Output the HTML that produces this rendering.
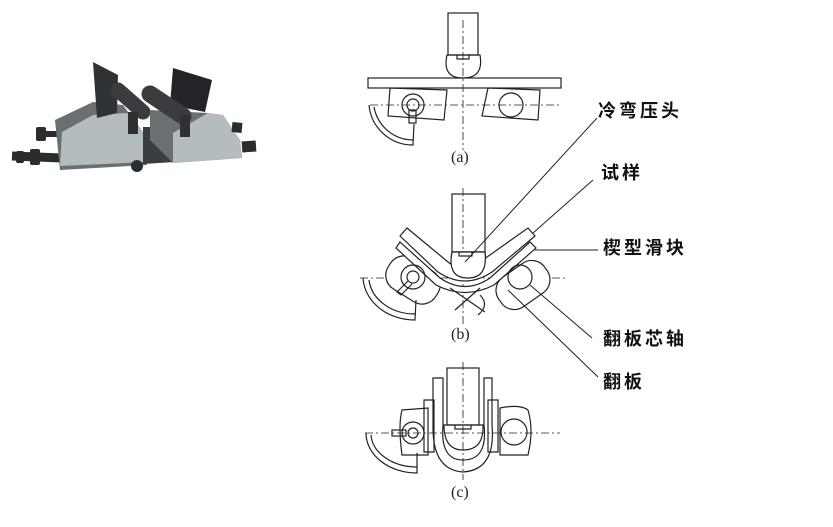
<!DOCTYPE html>
<html><head><meta charset="utf-8">
<style>
html,body{margin:0;padding:0;background:#fff;width:833px;height:527px;overflow:hidden}
svg{display:block}
.t{font-family:"Liberation Sans","Noto Sans CJK SC",sans-serif;font-weight:bold;font-size:18px;fill:#111;letter-spacing:3px}
.c{font-family:"Liberation Serif","Noto Serif CJK SC",serif;font-size:16px;fill:#222}
</style></head><body>
<svg width="833" height="527" viewBox="0 0 833 527" xmlns="http://www.w3.org/2000/svg">
<!-- photo -->
<g>
<line x1="12" y1="156" x2="62" y2="158" stroke="#2a2c2e" stroke-width="9"/>
<rect x="30" y="149" width="10" height="16" fill="#2a2c2e" rx="2"/>
<rect x="16" y="151" width="8" height="12" fill="#2a2c2e" rx="2"/>
<rect x="36" y="127" width="10" height="14" fill="#2a2c2e" rx="2"/>
<line x1="40" y1="134" x2="58" y2="134" stroke="#2a2c2e" stroke-width="6"/>
<polygon points="55,120 93,102 123,105 145,135 147,165 60,170" fill="#6a6f72"/>
<polygon points="62,132 93,115 127,113 145,135 147,162 60,166" fill="#b4bcbf"/>
<polygon points="143,127 175,127 175,162 143,164" fill="#3a3d40"/>
<polygon points="93,62 118,75 117,113 97,118" fill="#303336"/>
<line x1="118" y1="90" x2="143" y2="112" stroke="#3a3c3f" stroke-width="15" stroke-linecap="round"/>
<polygon points="173,68 212,80 205,112 170,105" fill="#222427"/>
<polygon points="150,110 208,113 223,115 240,140 242,158 173,163 150,140" fill="#6a6f72"/>
<polygon points="173,133 208,113 223,115 240,140 242,158 173,163" fill="#b4bcbf"/>
<line x1="150" y1="94" x2="183" y2="116" stroke="#3a3c3f" stroke-width="17" stroke-linecap="round"/>
<rect x="128" y="112" width="10" height="22" fill="#2e3033"/>
<rect x="180" y="115" width="10" height="22" fill="#2e3033"/>
<line x1="232" y1="127" x2="242" y2="128" stroke="#2a2c2e" stroke-width="10"/>
<line x1="242" y1="147" x2="256" y2="146" stroke="#2a2c2e" stroke-width="11"/>
<circle cx="137" cy="166" r="6" fill="#2a2c2e"/>
</g>
<g fill="none" stroke="#222" stroke-width="1.2">
<!-- (a) -->
<path d="M463 20V150 M370 105H560" stroke-dasharray="8 3 2 3" stroke-width="0.8"/>
<rect x="448" y="13" width="30" height="42"/>
<path d="M447 55 Q442 78 463 78 Q484 78 480 55 Z M457 55v4h12v-4"/>
<rect x="368" y="78" width="193" height="10"/>
<path d="M390 88l-2 28 56 4 3-30z M488 88l-6 28 56 4 2-30z"/>
<circle cx="413" cy="105" r="11"/><circle cx="413" cy="105" r="6"/>
<rect x="409" y="110" width="7" height="13"/>
<circle cx="511" cy="105" r="12"/>
<path d="M369 105 A44 44 0 0 0 413 145 L414 124 M374 107 A40 40 0 0 0 413 140"/>
<!-- (b) -->
<path d="M463 188V325 M360 278H565" stroke-dasharray="8 3 2 3" stroke-width="0.8"/>
<rect x="452" y="194" width="33" height="58"/>
<path d="M452 252 Q447 278 468 278 Q488 278 485 252 Z M459 252v4h13v-4"/>
<rect x="385" y="262" width="56" height="36" rx="16" transform="rotate(32 413 280)" fill="#fff"/>
<rect x="495" y="267" width="56" height="36" rx="16" transform="rotate(-35 523 285)" fill="#fff"/>
<path d="M400 236 L407 228 L448 262 Q463 275 480 262 L528 228 L535 236 L492 272 Q465 290 438 272 Z" fill="#fff"/>
<path d="M396 248 L400 242 L440 278 Q465 295 490 278 L530 242 L536 248 L494 285 Q465 300 436 285 Z" fill="#fff"/>
<path d="M452 252 Q447 278 468 278 Q488 278 485 252 Z" fill="#fff"/>
<path d="M459 252v4h13v-4"/>
<circle cx="413" cy="277" r="12"/><circle cx="413" cy="277" r="6"/>
<path d="M408 281 L397 292 L401 295 L412 284"/>
<circle cx="520" cy="277" r="12"/>
<path d="M363 278 A52 44 0 0 0 415 320 L416 300 M369 280 A46 38 0 0 0 415 314"/>
<path d="M450 288 L485 312 M480 288 L455 310 M480 295 Q490 305 478 315"/>
<!-- (c) -->
<path d="M463 362V480 M365 433H560" stroke-dasharray="8 3 2 3" stroke-width="0.8"/>
<rect x="447" y="368" width="32" height="57"/>
<path d="M444 425 Q444 450 463 450 Q484 450 483 425 Z M455 425v4h16v-4"/>
<path d="M433 378h10v47 Q440 460 463 460 Q488 460 484 425V378h8v47 Q496 470 463 472 Q432 470 433 425z"/>
<path d="M424 400h10v52h-10z M488 400h10v52h-10z"/>
<path d="M402 410 Q398 425 402 455 H428 V408z M500 408 Q520 404 528 410 Q534 430 528 455 H500z"/>
<circle cx="413" cy="433" r="11"/><circle cx="413" cy="433" r="5"/>
<rect x="392" y="430" width="14" height="6"/>
<circle cx="514" cy="432" r="13"/>
<path d="M366 433 A51 40 0 0 0 417 473 L417 453 M371 435 A46 34 0 0 0 417 467"/>
<!-- leaders -->
<path d="M597 118 L465 262 M593 180 L533 233 M535 250 H598 M530 285 L592 338 M508 290 L598 377" stroke-width="1"/>
</g>
<text class="c" x="451" y="162">(a)</text>
<text class="c" x="451" y="339">(b)</text>
<text class="c" x="451" y="497">(c)</text>
<text class="t" x="598" y="117">冷弯压头</text>
<text class="t" x="601" y="179">试样</text>
<text class="t" x="603" y="254">楔型滑块</text>
<text class="t" x="603" y="345">翻板芯轴</text>
<text class="t" x="603" y="388">翻板</text>
</svg>
</body></html>
